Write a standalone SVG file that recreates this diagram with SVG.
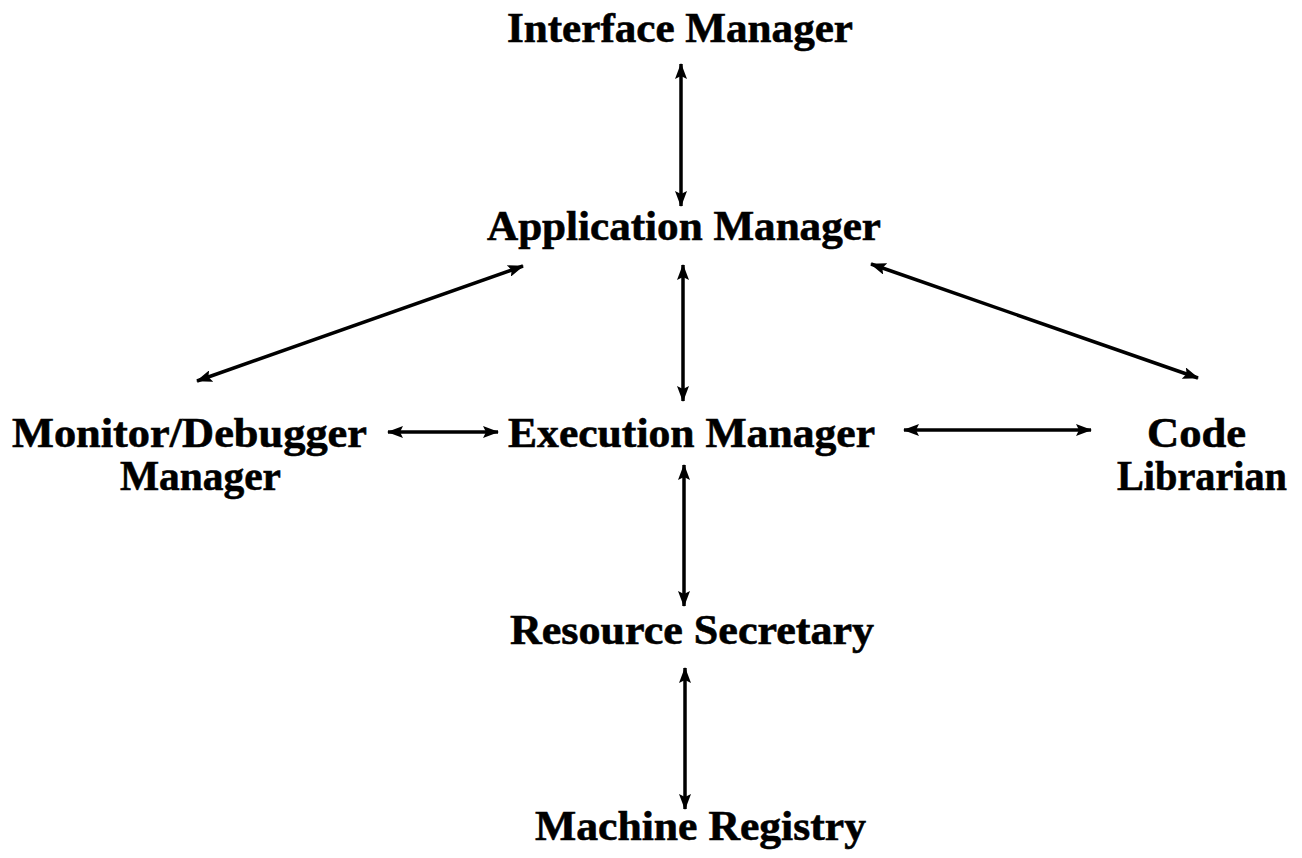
<svg xmlns="http://www.w3.org/2000/svg" width="1302" height="858" viewBox="0 0 1302 858">
  <style>
    .label { font-family: "Liberation Serif", "DejaVu Serif", serif; font-weight: bold; font-size: 42px; fill: #000; stroke: #000; stroke-width: 0.6; }
    .link { stroke: #000; stroke-width: 3.5; fill: none; marker-start: url(#head); marker-end: url(#head); }
  </style>
  <defs>
    <marker id="head" viewBox="0 0 16 12" refX="15" refY="6" markerWidth="16" markerHeight="12" markerUnits="userSpaceOnUse" orient="auto-start-reverse">
      <path d="M0,0 L16,6 L0,12 L3,6 Z" fill="#000"/>
    </marker>
  </defs>
  <rect width="1302" height="858" fill="#fff"/>

  <g id="connectors">
    <line class="link" x1="681" y1="64" x2="681" y2="206"/>
    <line class="link" x1="683" y1="265" x2="683" y2="401"/>
    <line class="link" x1="523" y1="266" x2="197" y2="381"/>
    <line class="link" x1="871" y1="264" x2="1198" y2="378"/>
    <line class="link" x1="388" y1="432" x2="498" y2="432"/>
    <line class="link" x1="904" y1="430" x2="1091" y2="430"/>
    <line class="link" x1="684" y1="465" x2="684" y2="606"/>
    <line class="link" x1="685" y1="668" x2="685" y2="809"/>
  </g>

  <g id="interface-manager">
    <text class="label" x="507" y="42" textLength="346" lengthAdjust="spacingAndGlyphs">Interface Manager</text>
  </g>
  <g id="application-manager">
    <text class="label" x="487" y="240" textLength="394" lengthAdjust="spacingAndGlyphs">Application Manager</text>
  </g>
  <g id="monitor-debugger-manager">
    <text class="label" x="12" y="447" textLength="355" lengthAdjust="spacingAndGlyphs">Monitor/Debugger</text>
    <text class="label" x="120" y="490" textLength="161" lengthAdjust="spacingAndGlyphs">Manager</text>
  </g>
  <g id="execution-manager">
    <text class="label" x="508" y="447" textLength="367" lengthAdjust="spacingAndGlyphs">Execution Manager</text>
  </g>
  <g id="code-librarian">
    <text class="label" x="1147" y="447" textLength="99" lengthAdjust="spacingAndGlyphs">Code</text>
    <text class="label" x="1117" y="490" textLength="170" lengthAdjust="spacingAndGlyphs">Librarian</text>
  </g>
  <g id="resource-secretary">
    <text class="label" x="510" y="644" textLength="364" lengthAdjust="spacingAndGlyphs">Resource Secretary</text>
  </g>
  <g id="machine-registry">
    <text class="label" x="535" y="840" textLength="331" lengthAdjust="spacingAndGlyphs">Machine Registry</text>
  </g>
</svg>
